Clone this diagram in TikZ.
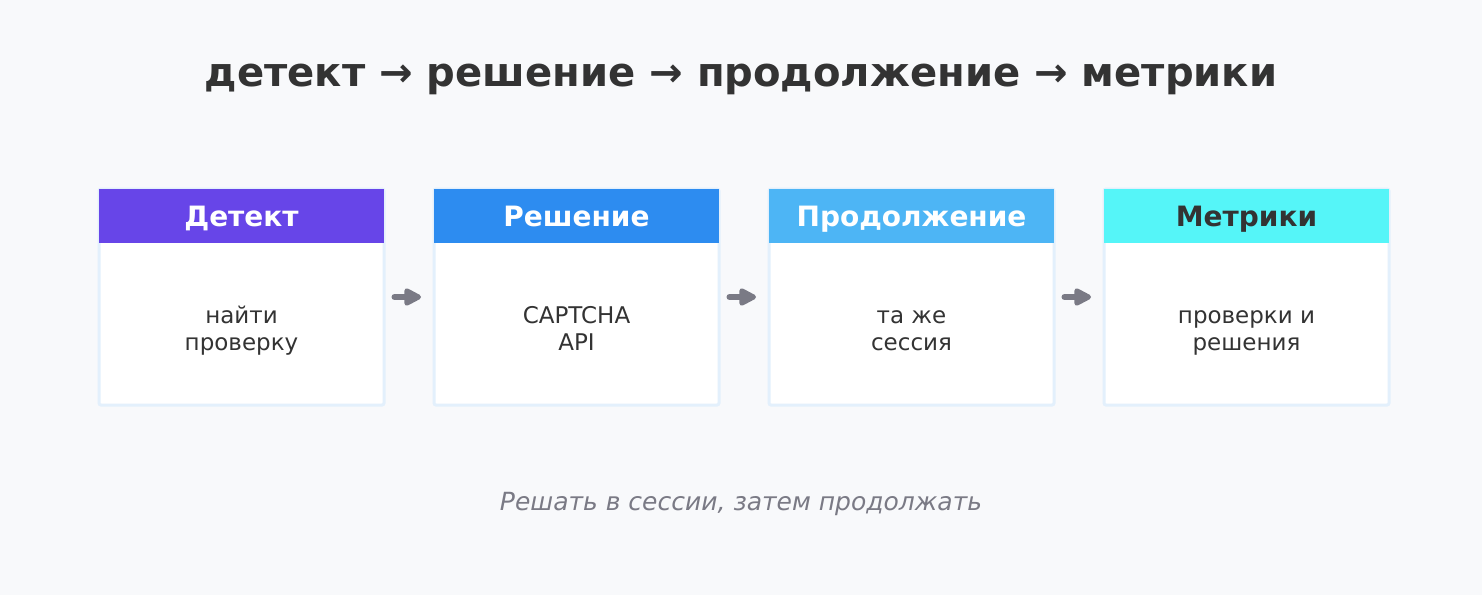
\documentclass[tikz,border=0pt]{standalone}
\usepackage{fontspec}
\setmainfont{DejaVu Sans}
\usetikzlibrary{arrows.meta}
\definecolor{bg}{HTML}{F8F9FB}
\definecolor{edge}{HTML}{E3F0FC}
\definecolor{txt}{HTML}{333333}
\definecolor{arr}{HTML}{7A7A85}
\definecolor{hA}{HTML}{6745E8}
\definecolor{hB}{HTML}{2D8CF0}
\definecolor{hC}{HTML}{4DB5F5}
\definecolor{hD}{HTML}{55F5F8}
\tikzset{
  cardbox/.style={draw=edge, line width=3pt, fill=white, rounded corners=2pt, minimum width=285pt, minimum height=216pt, inner sep=0pt},
  headbox/.style={minimum width=285pt, minimum height=54pt, inner sep=0pt, text height=22pt, text depth=2pt, font=\fontsize{28}{32}\selectfont\bfseries},
  bodytxt/.style={font=\fontsize{23}{27}\selectfont, text=txt, align=center},
  flow/.style={draw=arr, line width=6pt, line cap=round, -{Triangle[length=20pt,width=19pt,round]}}
}
\begin{document}
\begin{tikzpicture}[x=1pt,y=-1pt]
\fill[bg] (0,0) rectangle (1482,595);
\useasboundingbox (0,0) rectangle (1482,595);
\node[font=\fontsize{40.1}{46}\selectfont\bfseries, text=txt, anchor=base] (title) at (741,86) {детект → решение → продолжение → метрики};
\foreach \i/\x/\hc/\tc/\h/\b in {1/241.5/hA/white/Детект/{найти\\проверку}, 2/576.5/hB/white/Решение/{CAPTCHA\\API}, 3/911.5/hC/white/Продолжение/{та же\\сессия}, 4/1246.5/hD/txt/Метрики/{проверки и\\решения}}{
  \node[cardbox] (card\i) at (\x,297) {};
  \node[headbox, fill=\hc, text=\tc, anchor=north] (head\i) at ([yshift=-1.5pt]card\i.north) {\h};
  \node[bodytxt, anchor=base] (body\i) at (\x,350) {\b};
}
\draw[flow] ([xshift=9pt]card1.east) -- ([xshift=-11.5pt]card2.west);
\draw[flow] ([xshift=9pt]card2.east) -- ([xshift=-11.5pt]card3.west);
\draw[flow] ([xshift=9pt]card3.east) -- ([xshift=-11.5pt]card4.west);
\node[font=\fontsize{25}{29}\selectfont\itshape, text=arr, anchor=base] (note) at (741,510) {Решать в сессии, затем продолжать};
\end{tikzpicture}
\end{document}
